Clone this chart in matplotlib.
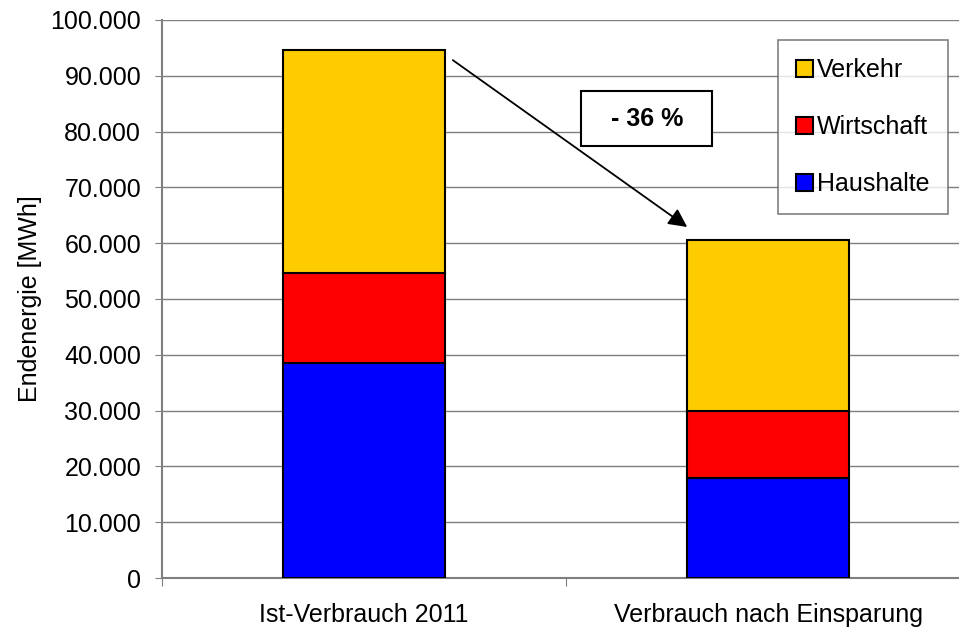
import matplotlib

matplotlib.use("Agg")
import matplotlib.pyplot as plt
import numpy as np
from matplotlib.ticker import FuncFormatter

plt.rcParams["font.family"] = ["Liberation Sans", "DejaVu Sans"]

# values in MWh
categories = ["Ist-Verbrauch 2011", "Verbrauch nach Einsparung"]
haushalte = [38500, 17900]
wirtschaft = [16200, 12100]
verkehr = [39900, 30600]
reduction_label = "- 36 %"

FS = 18
fig = plt.figure(figsize=(9.59, 6.30), dpi=100)
# axes run past the right edge of the figure like the original
ax = fig.add_axes([162 / 959, 52 / 630, 808 / 959, 558 / 630])

x = np.arange(len(categories))
w = 0.40
kw = dict(width=w, edgecolor="black", linewidth=1.5, zorder=3)
b1 = ax.bar(x, haushalte, color="#0000FF", label="Haushalte", **kw)
b2 = ax.bar(x, wirtschaft, bottom=haushalte, color="#FF0000", label="Wirtschaft", **kw)
bottom2 = np.add(haushalte, wirtschaft)
b3 = ax.bar(x, verkehr, bottom=bottom2, color="#FFCC00", label="Verkehr", **kw)

ax.set_xlim(-0.5, 1.5)
ax.set_ylim(0, 100000)
ax.set_yticks(np.arange(0, 100001, 10000))
ax.yaxis.set_major_formatter(FuncFormatter(lambda v, p: f"{int(v):,}".replace(",", ".")))
ax.grid(axis="y", color="#7f7f7f", lw=1.0, zorder=0)
ax.set_axisbelow(True)

ax.set_xticks([-0.5, 0.5, 1.5])
ax.set_xticklabels([])
ax.set_xticks(x, minor=True)
ax.set_xticklabels(categories, minor=True)
ax.tick_params(axis="x", which="minor", length=0, pad=18, labelsize=FS)
ax.tick_params(axis="x", which="major", length=6, color="#7f7f7f", direction="out")
ax.tick_params(axis="y", length=5, color="#7f7f7f", labelsize=FS, pad=10)

for side in ("top", "right"):
    ax.spines[side].set_visible(False)
for side in ("left", "bottom"):
    ax.spines[side].set_color("#7f7f7f")
    ax.spines[side].set_linewidth(1.5)

ax.set_ylabel("Endenergie [MWh]", fontsize=FS, labelpad=6)

# arrow from first bar top down to second bar
ax.annotate(
    "", xy=(0.80, 62900), xytext=(0.22, 92800),
    arrowprops=dict(arrowstyle="-|>", color="black", lw=1.3, mutation_scale=28,
                    shrinkA=0, shrinkB=0),
    zorder=5,
)
ax.text(
    0.70, 82300, "  " + reduction_label + "  ", fontsize=FS, fontweight="bold",
    ha="center", va="center", zorder=6,
    bbox=dict(boxstyle="square,pad=0.62", facecolor="white", edgecolor="black", lw=1.5),
)

leg = ax.legend(
    handles=[b3, b2, b1], loc="upper left", bbox_to_anchor=(616 / 808, 538 / 558),
    fontsize=FS, frameon=True, fancybox=False, edgecolor="#606060",
    handlelength=0.7, handleheight=0.7, handletextpad=0.15, labelspacing=1.32,
    borderpad=0.72, borderaxespad=0,
)
leg.get_frame().set_linewidth(1.2)
leg.set_zorder(6)

fig.savefig("out.png", dpi=100)
